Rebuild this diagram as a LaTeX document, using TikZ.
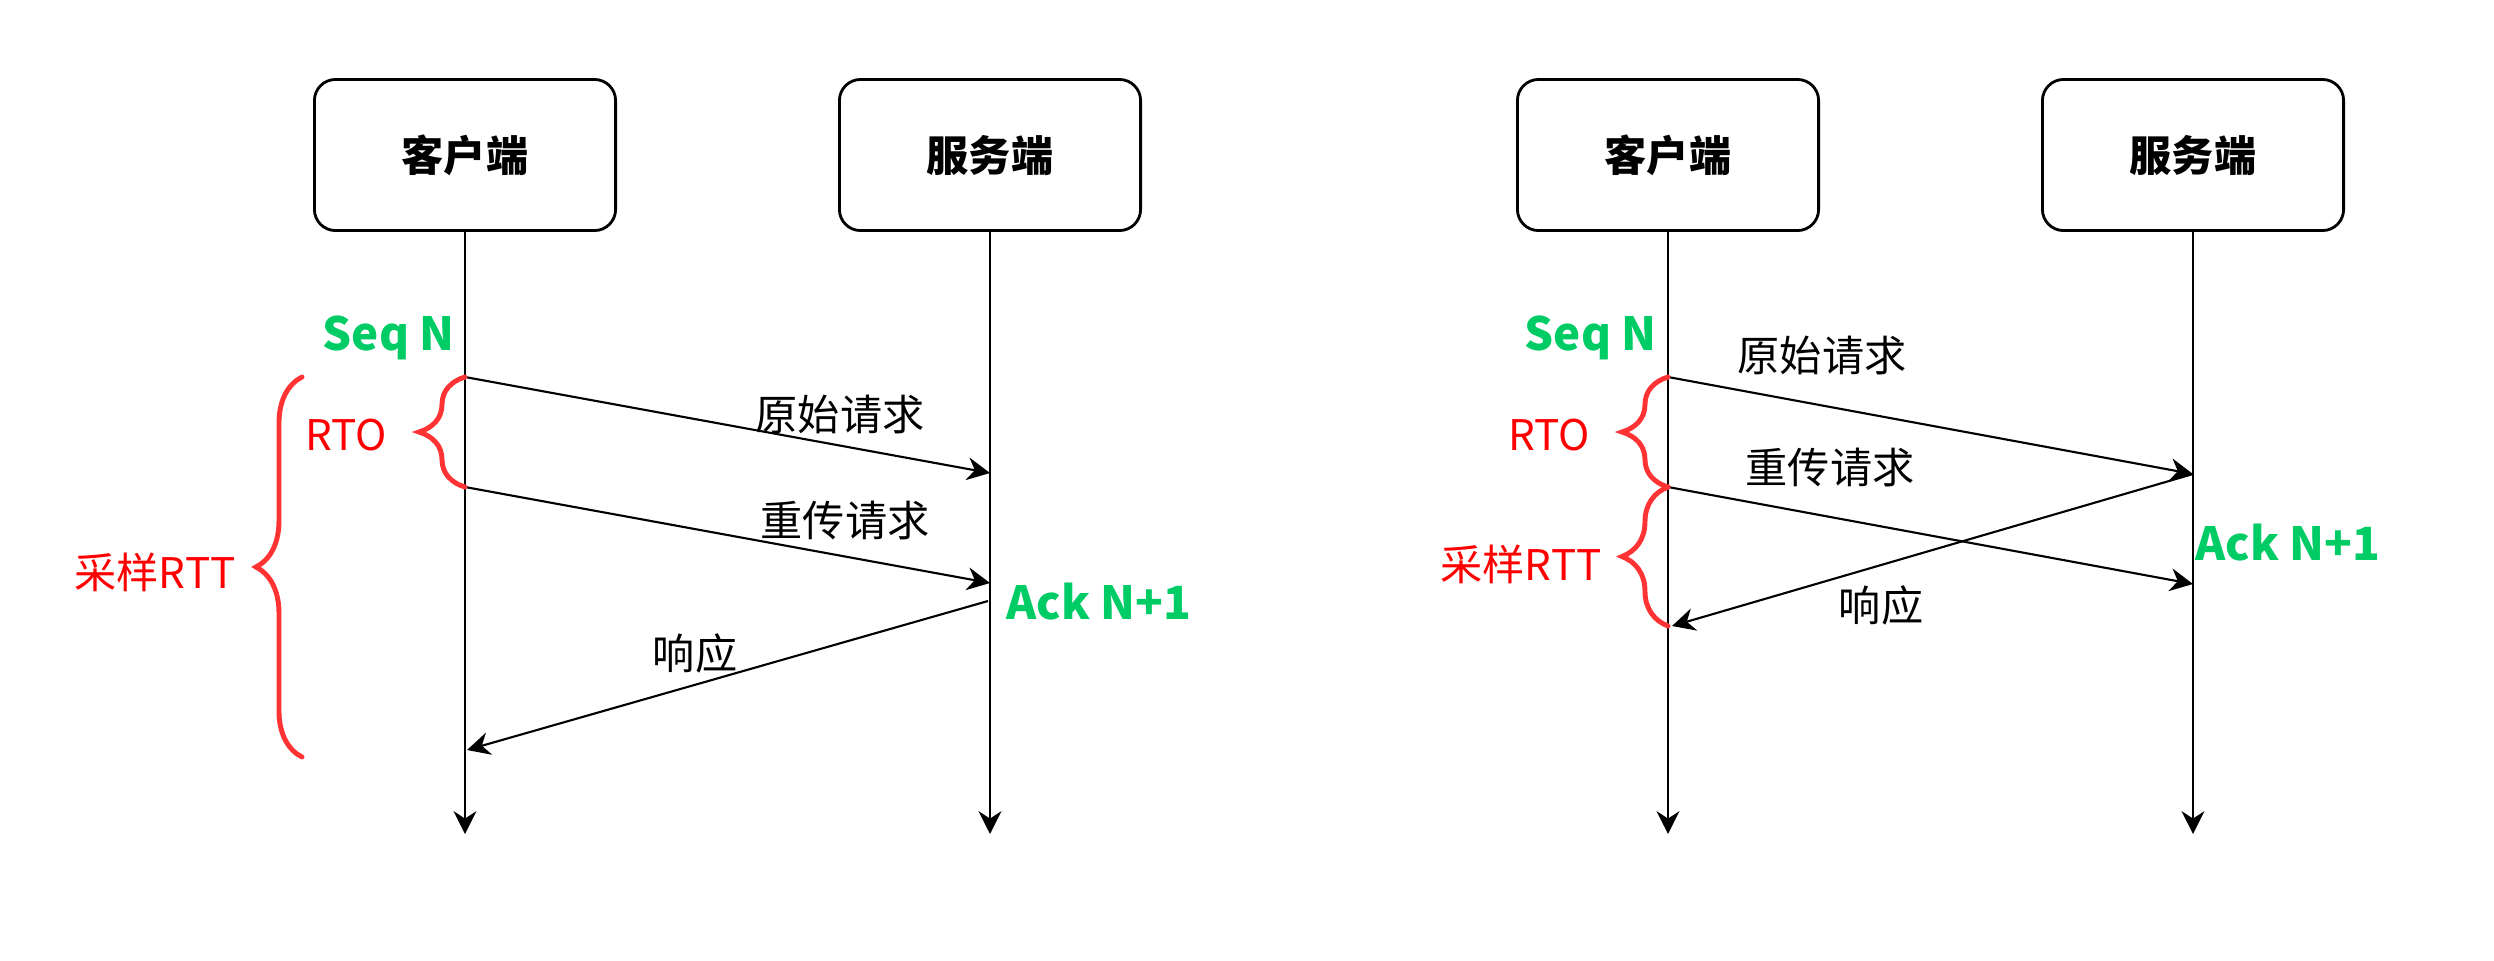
\documentclass[tikz,border=0pt]{standalone}
\usepackage{fontspec}
\setmainfont{Noto Sans CJK SC}
\usetikzlibrary{arrows.meta,positioning,decorations.pathreplacing}
\definecolor{seqgreen}{RGB}{0,204,102}
\definecolor{labelred}{RGB}{255,0,0}
\definecolor{bracered}{RGB}{255,51,51}
\tikzset{
  head/.style   ={rectangle, rounded corners=6pt, draw=black, line width=0.8pt,
                  minimum width=3.01cm, minimum height=1.51cm,
                  font=\fontsize{12}{14}\selectfont\bfseries},
  life/.style   ={-{Stealth[length=6.5pt,width=6.5pt]}, line width=0.6pt},
  msg/.style    ={-{Stealth[length=6.5pt,width=6.5pt]}, line width=0.6pt},
  msglbl/.style ={font=\fontsize{12}{14}\selectfont},
  seqlbl/.style ={font=\fontsize{13}{14}\selectfont\bfseries, text=seqgreen},
  redlbl/.style ={font=\fontsize{12}{14}\selectfont, text=labelred},
  curly/.style  ={decorate, decoration={brace, amplitude=0.46cm}, draw=bracered,
                  line width=1.4pt, line cap=round}
}
\begin{document}
\begin{tikzpicture}[x=0.01cm, y=-0.01cm]
\useasboundingbox (0,0) rectangle (2494,960);
\foreach \nm/\x/\name in {ca/465/客户端, sa/990/服务端, cb/1668/客户端, sb/2193/服务端}{
  \node[head] (\nm) at (\x,155) {\name};
  \coordinate (\nm-end) at (\x,834);
  \draw[life] (\nm) -- (\nm-end);
}
% left: retransmit, ack after resend
\coordinate (ca1) at (465,377); \coordinate (sa1) at (990,473);
\coordinate (ca2) at (465,487); \coordinate (sa2) at (990,583);
\coordinate (sa3) at (988,601); \coordinate (ca3) at (467,750);
\coordinate (rttl) at (302,377); \coordinate (rttr) at (302,757);
\draw[msg] (ca1) -- (sa1);
\draw[msg] (ca2) -- (sa2);
\draw[msg] (sa3) -- (ca3);
\draw[curly] (ca2) -- (ca1);
\draw[curly] (rttr) -- (rttl);
\node[seqlbl, anchor=east] (seqa) at (467,338) {Seq N};
\node[redlbl] (rtoa) at (346,435) {RTO};
\node[redlbl] (rtta) at (155,572) {采样RTT};
\node[msglbl] (reqa) at (840,414) {原始请求};
\node[msglbl] (rsda) at (845,520) {重传请求};
\node[seqlbl, anchor=west] (acka) at (994,602) {Ack N+1};
\node[msglbl] (rspa) at (695,653) {响应};
% right: ack of the original arrives after resend
\coordinate (cb1) at (1668,377); \coordinate (sb1) at (2193,474);
\coordinate (cb2) at (1668,487); \coordinate (sb2) at (2193,584);
\coordinate (cb3) at (1672,626); \coordinate (cb4) at (1668,626);
\draw[msg] (cb1) -- (sb1);
\draw[msg] (cb2) -- (sb2);
\draw[msg] (sb1) -- (cb3);
\draw[curly] (cb2) -- (cb1);
\draw[curly] (cb4) -- (cb2);
\node[seqlbl, anchor=east] (seqb) at (1669,338) {Seq N};
\node[redlbl] (rtob) at (1549,435) {RTO};
\node[redlbl] (rttb) at (1521,564) {采样RTT};
\node[msglbl] (reqb) at (1822,355) {原始请求};
\node[msglbl] (rsdb) at (1830,467) {重传请求};
\node[seqlbl, anchor=west] (ackb) at (2183,543) {Ack N+1};
\node[msglbl] (rspb) at (1881,605) {响应};
\end{tikzpicture}
\end{document}
